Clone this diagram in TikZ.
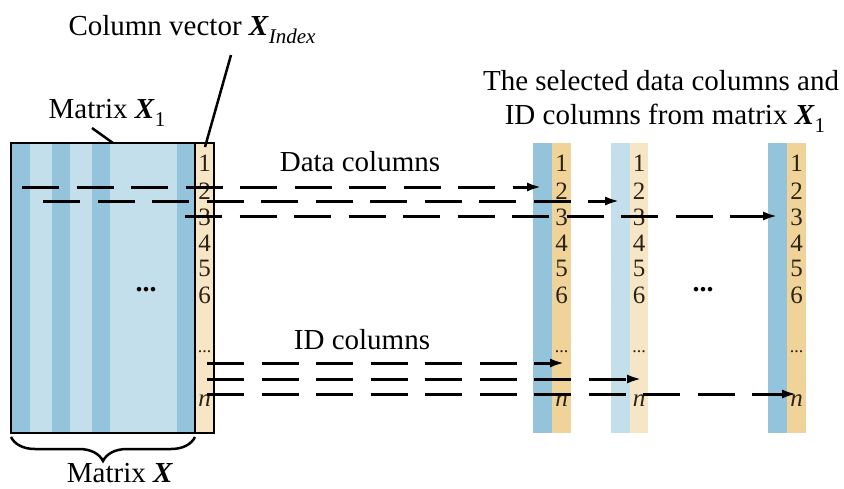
\documentclass[tikz,border=0pt]{standalone}
\usepackage{fontspec}
\setmainfont{Liberation Serif}
\usetikzlibrary{arrows.meta,decorations.pathreplacing}
\definecolor{blueD}{HTML}{94C4DC}
\definecolor{blueL}{HTML}{C3DFEB}
\definecolor{tanL}{HTML}{F7E6C6}
\definecolor{tanD}{HTML}{F0D398}
\definecolor{numtext}{HTML}{2A2214}
% bold italic matrix symbol and a lowered subscript
\newcommand\bX{\textbf{\textit{X}}}
\newcommand\lowsub[1]{\raisebox{-8pt}{\fontsize{21}{21}\selectfont #1}}

\begin{document}
\begin{tikzpicture}[x=1pt,y=-1pt,
  lbl/.style={font=\fontsize{29}{32}\selectfont, inner sep=0pt, anchor=base},
  num/.style={font=\fontsize{25}{25}\selectfont, inner sep=0pt, text=numtext},
  smalldots/.style={font=\fontsize{18}{18}\selectfont, inner sep=0pt, text=numtext},
  bigdots/.style={font=\fontsize{28}{28}\selectfont\bfseries, inner sep=0pt},
  flow/.style={line width=3pt, dash pattern=on 37pt off 17.5pt,
               -{Latex[length=15pt,width=9pt]}},
  lead/.style={line width=2.5pt},
]
\useasboundingbox (0,0) rectangle (844,488);

% ---- matrix X1: striped data block plus index column
\fill[blueL] (11,143) rectangle (195,433);
\foreach \a/\b in {11/30, 51.7/70, 92/110, 177/195}
  \fill[blueD] (\a,143) rectangle (\b,433);
\fill[tanL] (195,143) rectangle (214,433);
\draw[line width=2pt] (11,143) rectangle (214,433);
\draw[line width=2pt] (195,143) -- (195,433);
\node[bigdots] (mdots) at (146,290) {...};

% ---- selected columns (data column + ID column)
\fill[blueD] (533,143) rectangle (552,433);
\fill[tanD]  (552,143) rectangle (571,433);
\fill[blueL] (611,143) rectangle (630,433);
\fill[tanL]  (630,143) rectangle (648,433);
\fill[blueD] (768,143) rectangle (787,433);
\fill[tanD]  (787,143) rectangle (806,433);
\node[bigdots] (sdots) at (703,290) {...};

% ---- row indices in every ID column
\foreach \c/\x in {m/204.5, a/561.5, b/639, c/796.5}{
  \foreach \r/\y in {1/163, 2/191, 3/217, 4/243, 5/268, 6/295}
    \node[num] (\c-\r) at (\x,\y) {\r};
  \node[smalldots] (\c-dots) at (\x,352) {...};
  \node[num] (\c-n) at (\x,401) {\textit{n}};
}

% ---- end points of the transfer arrows
\coordinate (a0) at (22,187);  \coordinate (a1) at (542,187);
\coordinate (b0) at (43,201);  \coordinate (b1) at (620,201);
\coordinate (c0) at (185,216); \coordinate (c1) at (778,216);
\coordinate (d0) at (207,363); \coordinate (d1) at (565,363);
\coordinate (e0) at (207,379); \coordinate (e1) at (642,379);
\coordinate (f0) at (207,394); \coordinate (f1) at (797,394);
\foreach \p in {a,b,c,d,e,f}
  \draw[flow] (\p0) -- (\p1);

% ---- labels
\node[lbl] (colvec) at (192,35) {Column vector \bX\lowsub{\textit{Index}}};
\node[lbl] (mx1) at (107,118) {Matrix \bX\lowsub{1}};
\node[lbl] (datacols) at (360,171) {Data columns};
\node[lbl] (idcols) at (362,349) {ID columns};
\node[lbl] (sel1) at (661,90) {The selected data columns and};
\node[lbl] (sel2) at (665,124) {ID columns from matrix \bX\lowsub{1}};
\node[lbl] (mx) at (120,482) {Matrix \bX};

% ---- leader lines
\coordinate (cvA) at (231,55);  \coordinate (cvB) at (205,147);
\coordinate (m1A) at (92,128);  \coordinate (m1B) at (113,143);
\draw[lead] (cvA) -- (cvB);
\draw[lead] (m1A) -- (m1B);

% ---- brace under the data block
\coordinate (brL) at (11,437); \coordinate (brR) at (195,437);
\draw[line width=2.5pt, decorate, decoration={brace, mirror, amplitude=24pt}]
  (brL) -- (brR);
\end{tikzpicture}
\end{document}
